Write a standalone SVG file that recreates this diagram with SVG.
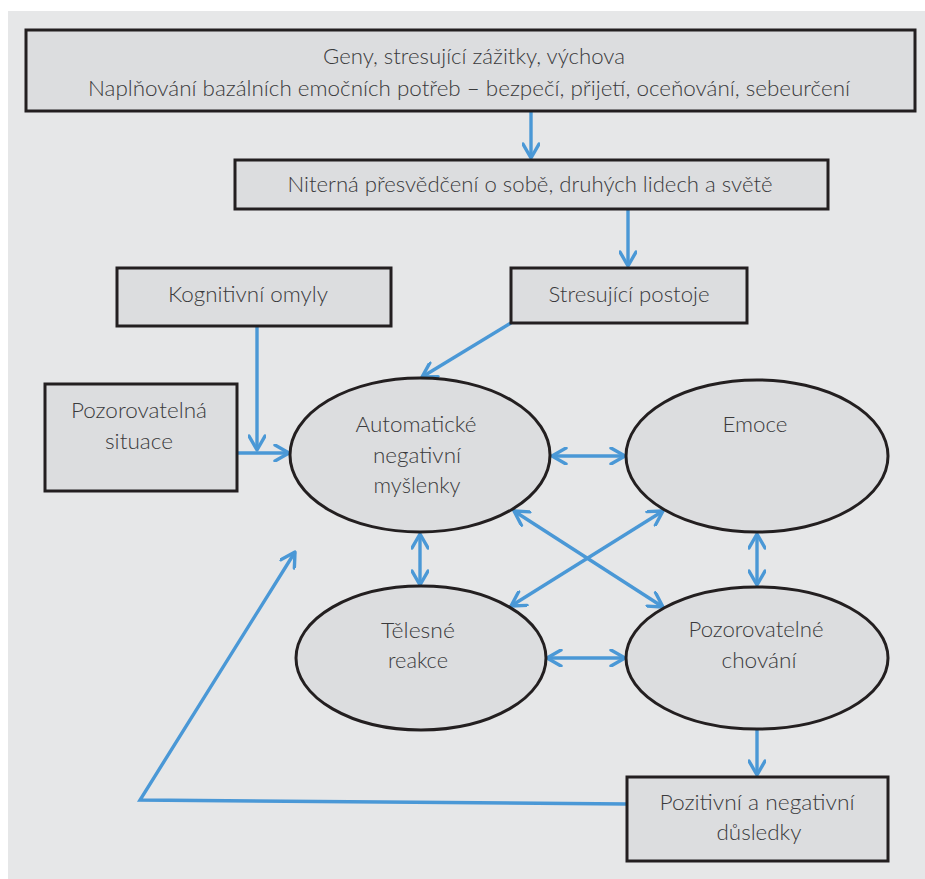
<svg xmlns="http://www.w3.org/2000/svg" width="925" height="879" viewBox="0 0 925 879">
<defs>
<style>
.bg{fill:#e6e7e8}
.box{fill:#dcdddf;stroke:#231f20;stroke-width:3}
.ell{fill:#dcdddf;stroke:#231f20;stroke-width:3}
.t{font-family:Lato,"Open Sans","Noto Sans",sans-serif;font-weight:300;font-size:22px;fill:#3a3a3c;text-anchor:middle}
.c{fill:none;stroke:#4a98d6;stroke-width:3.4}
</style>
<marker id="ah" viewBox="0 0 18 18" refX="16" refY="9" markerWidth="18" markerHeight="18" markerUnits="userSpaceOnUse" orient="auto-start-reverse">
<path d="M2,1 L16,9 L2,17" fill="none" stroke="#4a98d6" stroke-width="3.4" stroke-linecap="round" stroke-linejoin="round"/>
</marker>
</defs>
<rect class="bg" x="8" y="11" width="917" height="868"/>

<g id="connectors">
<line class="c" x1="531" y1="112" x2="531" y2="158" marker-end="url(#ah)"/>
<line class="c" x1="628" y1="210" x2="628" y2="266" marker-end="url(#ah)"/>
<line class="c" x1="511" y1="323" x2="422" y2="377" marker-end="url(#ah)"/>
<line class="c" x1="257" y1="326" x2="257" y2="450" marker-end="url(#ah)"/>
<line class="c" x1="237" y1="453" x2="289" y2="453" marker-end="url(#ah)"/>
<line class="c" x1="552" y1="456" x2="625" y2="456" marker-start="url(#ah)" marker-end="url(#ah)"/>
<line class="c" x1="420" y1="534" x2="420" y2="585" marker-start="url(#ah)" marker-end="url(#ah)"/>
<line class="c" x1="757" y1="534" x2="757" y2="585" marker-start="url(#ah)" marker-end="url(#ah)"/>
<line class="c" x1="547" y1="658" x2="625" y2="658" marker-start="url(#ah)" marker-end="url(#ah)"/>
<line class="c" x1="514" y1="511" x2="663" y2="607" marker-start="url(#ah)" marker-end="url(#ah)"/>
<line class="c" x1="663" y1="511" x2="511" y2="606" marker-start="url(#ah)" marker-end="url(#ah)"/>
<line class="c" x1="757" y1="730" x2="757" y2="775" marker-end="url(#ah)"/>
<polyline class="c" points="627,804 140,800 295,552" marker-end="url(#ah)"/>
</g>

<g id="n-zaklad">
<rect class="box" x="26" y="30" width="889" height="81"/>
<text class="t" x="474" y="64" textLength="302" lengthAdjust="spacingAndGlyphs">Geny, stresující zážitky, výchova</text>
<text class="t" x="469" y="96" textLength="762" lengthAdjust="spacingAndGlyphs">Naplňování bazálních emočních potřeb – bezpečí, přijetí, oceňování, sebeurčení</text>
</g>
<g id="n-niterna">
<rect class="box" x="235" y="160" width="593" height="49"/>
<text class="t" x="530" y="192" textLength="485" lengthAdjust="spacingAndGlyphs">Niterná přesvědčení o sobě, druhých lidech a světě</text>
</g>
<g id="n-kognitivni">
<rect class="box" x="117" y="268" width="274" height="58"/>
<text class="t" x="248" y="302" textLength="160" lengthAdjust="spacingAndGlyphs">Kognitivní omyly</text>
</g>
<g id="n-stresujici">
<rect class="box" x="511" y="268" width="236" height="55"/>
<text class="t" x="629" y="302" textLength="161" lengthAdjust="spacingAndGlyphs">Stresující postoje</text>
</g>
<g id="n-situace">
<rect class="box" x="45" y="384" width="192" height="107"/>
<text class="t" x="139" y="418" textLength="136" lengthAdjust="spacingAndGlyphs">Pozorovatelná</text>
<text class="t" x="139" y="449" textLength="68" lengthAdjust="spacingAndGlyphs">situace</text>
</g>
<g id="n-myslenky">
<ellipse class="ell" cx="420" cy="455" rx="130" ry="77"/>
<text class="t" x="416" y="432" textLength="121" lengthAdjust="spacingAndGlyphs">Automatické</text>
<text class="t" x="417" y="463" textLength="88" lengthAdjust="spacingAndGlyphs">negativní</text>
<text class="t" x="417" y="493" textLength="87" lengthAdjust="spacingAndGlyphs">myšlenky</text>
</g>
<g id="n-emoce">
<ellipse class="ell" cx="757" cy="456" rx="131" ry="76"/>
<text class="t" x="755" y="432" textLength="65" lengthAdjust="spacingAndGlyphs">Emoce</text>
</g>
<g id="n-telesne">
<ellipse class="ell" cx="421" cy="658" rx="125" ry="72"/>
<text class="t" x="418" y="638" textLength="74" lengthAdjust="spacingAndGlyphs">Tělesné</text>
<text class="t" x="418" y="668" textLength="60" lengthAdjust="spacingAndGlyphs">reakce</text>
</g>
<g id="n-chovani">
<ellipse class="ell" cx="757" cy="658" rx="131" ry="71"/>
<text class="t" x="756" y="637" textLength="135" lengthAdjust="spacingAndGlyphs">Pozorovatelné</text>
<text class="t" x="759" y="668" textLength="75" lengthAdjust="spacingAndGlyphs">chování</text>
</g>
<g id="n-dusledky">
<rect class="box" x="627" y="777" width="261" height="84"/>
<text class="t" x="757" y="810" textLength="195" lengthAdjust="spacingAndGlyphs">Pozitivní a negativní</text>
<text class="t" x="759" y="840" textLength="85" lengthAdjust="spacingAndGlyphs">důsledky</text>
</g>
</svg>
